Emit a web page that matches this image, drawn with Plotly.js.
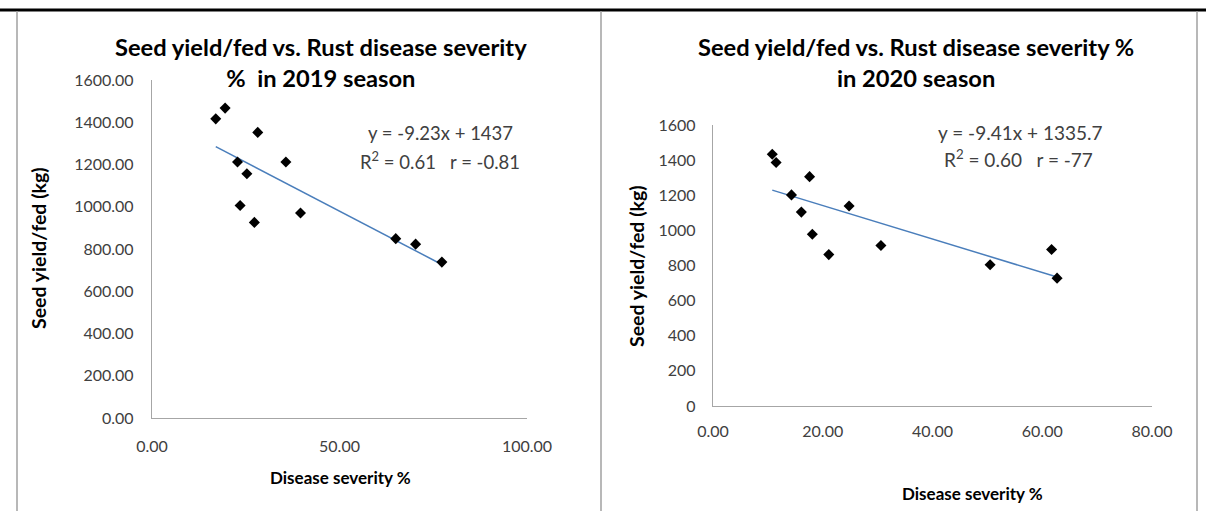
<!DOCTYPE html>
<html>
<head>
<meta charset="utf-8">
<script src="https://cdn.plot.ly/plotly-3.0.1.min.js"></script>
<style>
html,body{margin:0;padding:0;background:#fff;}
#chart{width:1206px;height:511px;}
</style>
</head>
<body>
<div id="chart"></div>
<script>
// ---- data: 2019 season ----
const severity2019 = [17.0, 19.5, 28.2, 22.8, 35.7, 25.3, 23.5, 39.6, 27.3, 65.0, 70.3, 77.3];
const yield2019    = [1416, 1467, 1352, 1212, 1212, 1156, 1006, 970, 926, 849, 823, 738];
// ---- data: 2020 season ----
const severity2020 = [10.8, 11.5, 17.6, 14.3, 16.1, 24.8, 18.1, 21.1, 30.6, 50.5, 61.7, 62.7];
const yield2020    = [1433, 1386, 1306, 1202, 1104, 1139, 978, 862, 914, 804, 891, 728];

const titles = [
  "Seed yield/fed vs. Rust disease severity<br>%  in 2019 season",
  "Seed yield/fed vs. Rust disease severity %<br>in 2020 season"
];
const eqText = [
  ["y = -9.23x + 1437", "R<sup>2</sup> = 0.61   r = -0.81"],
  ["y = -9.41x + 1335.7", "R<sup>2</sup> = 0.60   r = -77"]
];
const xTitle = "Disease severity %";
const yTitle = "Seed yield/fed (kg)";

function fit(xs, ys){
  const n = xs.length;
  const mx = xs.reduce((a,b)=>a+b,0)/n, my = ys.reduce((a,b)=>a+b,0)/n;
  let sxy=0, sxx=0;
  for(let i=0;i<n;i++){ sxy+=(xs[i]-mx)*(ys[i]-my); sxx+=(xs[i]-mx)**2; }
  const b = sxy/sxx, a = my - b*mx;
  const x0 = Math.min(...xs), x1 = Math.max(...xs);
  return {x:[x0,x1], y:[a+b*x0, a+b*x1]};
}

const W = 1206, H = 511;
const px = v => v/W, py = v => 1 - v/H;

const f1 = fit(severity2019, yield2019);
const f2 = fit(severity2020, yield2020);

const FONT = "Lato, 'Open Sans', sans-serif";
const lineBlue = "#4a7ebb";

const traces = [
  {x:f1.x, y:f1.y, mode:"lines", line:{color:lineBlue, width:1.5}, xaxis:"x", yaxis:"y", hoverinfo:"skip"},
  {x:severity2019, y:yield2019, mode:"markers", marker:{symbol:"diamond", size:8.5, color:"#000"}, xaxis:"x", yaxis:"y"},
  {x:f2.x, y:f2.y, mode:"lines", line:{color:lineBlue, width:1.5}, xaxis:"x2", yaxis:"y2", hoverinfo:"skip"},
  {x:severity2020, y:yield2020, mode:"markers", marker:{symbol:"diamond", size:8.5, color:"#000"}, xaxis:"x2", yaxis:"y2"}
];

const axBase = {showline:true, linecolor:"#a6a6a6", linewidth:1.2, showgrid:false, zeroline:false, ticks:"",
  tickfont:{family:FONT, size:16, color:"#404040"}, fixedrange:true};

function ann(text, x, y, size, bold, color, extra){
  return Object.assign({text:text, xref:"paper", yref:"paper", x:px(x), y:py(y), xanchor:"center", yanchor:"middle",
    showarrow:false, font:{family:FONT, size:size, color:color, weight: bold ? "bold" : "normal"}, align:"center"}, extra||{});
}

const layout = {
  width:W, height:H, margin:{l:0,r:0,t:0,b:0}, showlegend:false,
  paper_bgcolor:"#fff", plot_bgcolor:"#fff",
  font:{family:FONT, color:"#000"},
  xaxis: Object.assign({}, axBase, {domain:[px(152), px(527)], range:[0,100], dtick:50, tickformat:".2f", anchor:"y", ticklabelstandoff:14}),
  yaxis: Object.assign({}, axBase, {domain:[py(418), py(80)], range:[0,1600], dtick:200, tickformat:".2f", anchor:"x", ticklabelstandoff:14}),
  xaxis2: Object.assign({}, axBase, {domain:[px(713), px(1152)], range:[0,80], dtick:20, tickformat:".2f", anchor:"y2", ticklabelstandoff:11}),
  yaxis2: Object.assign({}, axBase, {domain:[py(406), py(125)], range:[0,1600], dtick:200, tickformat:"d", anchor:"x2", ticklabelstandoff:13}),
  shapes:[
    {type:"line", xref:"paper", yref:"paper", x0:0, x1:1, y0:py(10), y1:py(10), line:{color:"#000", width:3}},
    {type:"line", xref:"paper", yref:"paper", x0:px(17), x1:px(17), y0:py(11), y1:0, line:{color:"#a0a0a0", width:1.5}},
    {type:"line", xref:"paper", yref:"paper", x0:px(601), x1:px(601), y0:py(11), y1:0, line:{color:"#a0a0a0", width:1.5}},
    {type:"line", xref:"paper", yref:"paper", x0:px(1197), x1:px(1197), y0:py(11), y1:0, line:{color:"#a0a0a0", width:1.5}}
  ],
  annotations:[
    ann(titles[0], 321, 62, 23.7, true, "#000"),
    ann(titles[1], 916, 62, 23.7, true, "#000"),
    ann(eqText[0][0], 440, 133, 18.5, false, "#404040"),
    ann(eqText[0][1], 440, 160, 18.5, false, "#404040"),
    ann(eqText[1][0], 1020, 133, 19, false, "#404040"),
    ann(eqText[1][1], 1018, 158, 19, false, "#404040"),
    ann(xTitle, 340, 477, 17, true, "#000"),
    ann(xTitle, 972, 493, 17, true, "#000"),
    ann(yTitle, 38, 248, 19.5, true, "#000", {textangle:-90}),
    ann(yTitle, 636, 266, 19.5, true, "#000", {textangle:-90})
  ]
};

Plotly.newPlot("chart", traces, layout, {displayModeBar:false, staticPlot:true});
</script>
</body>
</html>
